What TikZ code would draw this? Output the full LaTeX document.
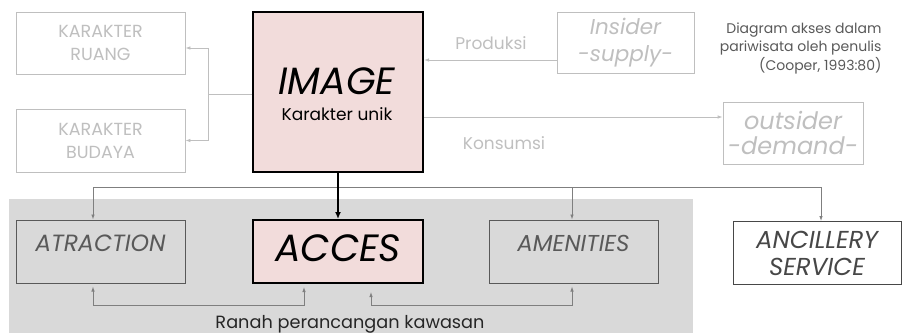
\documentclass[tikz,border=0pt]{standalone}
\usepackage{fontspec}
\setmainfont{Poppins}
\usetikzlibrary{positioning,arrows.meta}
\definecolor{pinkfill}{HTML}{F2DCDB}
\definecolor{faint}{HTML}{BFBFBF}
\definecolor{midgray}{HTML}{595959}
\definecolor{linkgray}{HTML}{7F7F7F}
\definecolor{areagray}{HTML}{D9D9D9}
\definecolor{darktext}{HTML}{262626}

\tikzset{
  faintbox/.style={draw=faint, line width=0.8pt, text=faint, fill=white, align=center,
    font=\fontsize{17.5}{23}\selectfont},
  keybox/.style={draw=black, line width=2pt, fill=pinkfill},
  grbox/.style={draw=midgray, line width=1pt},
  faintarrow/.style={draw=faint, line width=0.8pt, -{Latex[length=5pt,width=3.5pt]}},
  linkarrow/.style={draw=linkgray, line width=0.8pt, -{Latex[length=5pt,width=3.5pt]}},
}

\begin{document}
\begin{tikzpicture}[x=1pt,y=-1pt]
    \useasboundingbox (0,0) rectangle (902,333);

    % Design area (grey)
    \fill[areagray] (9,199) rectangle (693,333);
    \node[text=darktext, font=\fontsize{17.7}{20}\selectfont] (ranah) at (350,324) {Ranah perancangan kawasan};

    % Top row
    \node[faintbox, minimum width=169, minimum height=62] (ruang) at (100.5,43) {KARAKTER\\RUANG};
    \node[faintbox, minimum width=169, minimum height=63] (budaya) at (100.5,140.5) {KARAKTER\\BUDAYA};
    \node[keybox, minimum width=170, minimum height=160] (image) at (338,92) {};
    \node[font=\fontsize{38}{40}\selectfont\itshape] (imgtxt) at (337,81) {IMAGE};
    \node[font=\fontsize{17}{20}\selectfont] (unik) at (337,114) {Karakter unik};
    \node[faintbox, minimum width=137, minimum height=61,
      font=\fontsize{21.5}{27}\selectfont\itshape] (insider) at (625.5,42.5) {Insider\\-supply-};
    \node[faintbox, minimum width=140, minimum height=62,
      font=\fontsize{24}{25}\selectfont\itshape] (outsider) at (793,133) {outsider\\-demand-};
    \node[text=midgray, align=right, anchor=east, font=\fontsize{14}{18.5}\selectfont] (caption)
      at (885,48) {Diagram akses dalam\\pariwisata oleh penulis\\(Cooper, 1993:80)};

    % Produksi / Konsumsi
    \coordinate (prod) at (0,60);
    \coordinate (kons) at (0,117);
    \draw[faintarrow] (insider.west |- prod) -- (image.east |- prod);
    \draw[faintarrow] (image.east |- kons) -- (outsider.west |- kons);
    \node[text=faint, font=\fontsize{17}{20}\selectfont] (produksi) at (491,43) {Produksi};
    \node[text=faint, font=\fontsize{17}{20}\selectfont] (konsumsi) at (504,143) {Konsumsi};

    % Image -> karakter
    \coordinate (split) at (208,94);
    \draw[faintarrow] (image.west |- split) -- (split) |- ([yshift=-5pt]ruang.east);
    \draw[faintarrow] (split) |- (budaya.east);

    % Bottom row
    \node[grbox, minimum width=169, minimum height=63] (atr) at (100.5,251.5) {};
    \node[text=midgray, font=\fontsize{23.5}{26}\selectfont\itshape] (atrtxt) at (100.5,243) {ATRACTION};
    \node[keybox, minimum width=170, minimum height=63] (acces) at (338,251.5) {};
    \node[font=\fontsize{38}{40}\selectfont\itshape] (acctxt) at (338,248) {ACCES};
    \node[grbox, minimum width=169, minimum height=63] (amen) at (573.5,251.5) {};
    \node[text=midgray, font=\fontsize{23}{26}\selectfont\itshape] (amentxt) at (573.5,243) {AMENITIES};
    \node[draw=darktext!85, line width=1pt, fill=white, minimum width=168, minimum height=63,
      align=center, text=darktext!85, font=\fontsize{24.5}{27}\selectfont\itshape] (ancil)
      at (817,253) {ANCILLERY\\SERVICE};

    % Distribution from image
    \coordinate (dist) at (338,187);
    \draw[linkarrow] (dist) -| ([xshift=-7.5pt]atr.north);
    \draw[linkarrow] (dist) -| ([xshift=-1.5pt]amen.north);
    \draw[linkarrow] (dist) -| ([xshift=4pt]ancil.north);
    \draw[line width=2pt, -{Latex[length=7pt,width=6pt]}] (image.south) -- (acces.north);

    % Links inside design area
    \coordinate (freeend) at (371,292);
    \draw[linkarrow, {Latex[length=5pt,width=3.5pt]}-{Latex[length=5pt,width=3.5pt]}, shorten <=3pt, shorten >=3pt]
      ([xshift=-7.5pt]atr.south) -- ++(0,22) -| ([xshift=-34pt]acces.south);
    \draw[linkarrow, {Latex[length=5pt,width=3.5pt]}-{Latex[length=5pt,width=3.5pt]}, shorten <=3pt]
      ([xshift=-1.5pt]amen.south) -- ++(0,22) -| (freeend);
\end{tikzpicture}
\end{document}
